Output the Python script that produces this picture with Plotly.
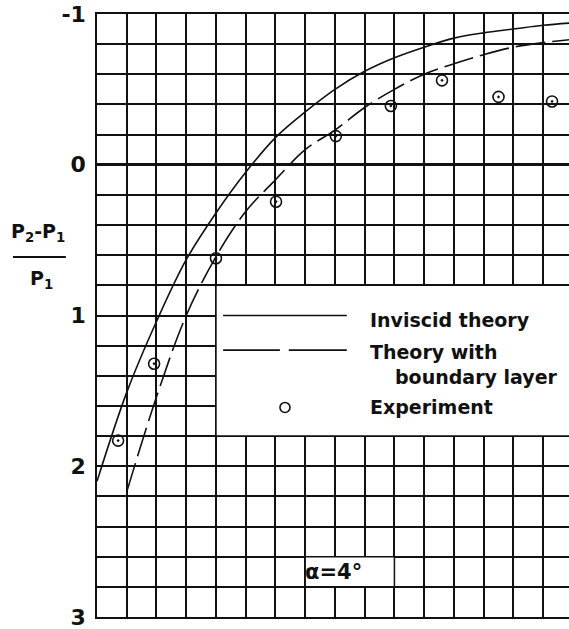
import plotly.graph_objects as go

# ---------------------------------------------------------------------------
# Data (x in grid-cell units, y = (P2-P1)/P1)
# ---------------------------------------------------------------------------
inviscid_x = [0, 1, 2, 3, 4, 5, 6, 7, 8, 9, 10, 11, 12, 13, 14, 15, 15.9]
inviscid_y = [2.1, 1.51, 1.04, 0.63, 0.32, 0.05, -0.18, -0.35, -0.5, -0.62,
              -0.71, -0.78, -0.84, -0.875, -0.9, -0.925, -0.94]

bl_x = [1, 2, 3, 4, 5, 6, 7, 8, 9, 10, 11, 12, 13, 14, 15, 15.9]
bl_y = [2.17, 1.54, 1.0, 0.61, 0.31, 0.1, -0.1, -0.23, -0.38, -0.5,
        -0.6, -0.67, -0.73, -0.78, -0.81, -0.83]

exp_x = [0.71, 1.92, 4.0, 6.02, 8.03, 9.88, 11.6, 13.5, 15.3]
exp_y = [1.83, 1.32, 0.62, 0.245, -0.19, -0.39, -0.56, -0.45, -0.42]

y_ticks = [-1, 0, 1, 2, 3]
y_ticktext = ["-1", "0", "1", "2", "3"]

FONT = "DejaVu Sans"
INK = "#111111"


def bold(size):
    return dict(family=FONT, size=size, color=INK, weight="bold")


fig = go.Figure()

fig.add_trace(go.Scatter(
    x=inviscid_x, y=inviscid_y, mode="lines",
    line=dict(color=INK, width=1.6, shape="spline", smoothing=1.0),
    showlegend=False,
))
fig.add_trace(go.Scatter(
    x=bl_x, y=bl_y, mode="lines",
    line=dict(color=INK, width=1.6, shape="spline", smoothing=1.0,
              dash="30px,7px"),
    showlegend=False,
))
fig.add_trace(go.Scatter(
    x=exp_x, y=exp_y, mode="markers",
    marker=dict(symbol="circle-open-dot", size=11, color=INK,
                line=dict(width=1.6, color=INK)),
    showlegend=False,
))

shapes = [
    # white legend panel and alpha panel, drawn over the grid
    dict(type="rect", xref="x", yref="y", x0=4, x1=20, y0=0.8, y1=1.8,
         fillcolor="white", line=dict(color=INK, width=1.5), layer="between"),
    dict(type="rect", xref="x", yref="y", x0=7, x1=10, y0=2.6, y1=2.8,
         fillcolor="white", line=dict(color=INK, width=1.5), layer="between"),
    # legend samples
    dict(type="line", xref="x", yref="y", x0=4.24, x1=8.4, y0=1.0, y1=1.0,
         line=dict(color=INK, width=1.6)),
    dict(type="line", xref="x", yref="y", x0=4.24, x1=6.15, y0=1.23, y1=1.23,
         line=dict(color=INK, width=1.6)),
    dict(type="line", xref="x", yref="y", x0=6.45, x1=8.4, y0=1.23, y1=1.23,
         line=dict(color=INK, width=1.6)),
    dict(type="circle", xref="x", yref="y", xsizemode="pixel",
         ysizemode="pixel", xanchor=6.32, yanchor=1.61,
         x0=-5, x1=5, y0=-5, y1=5, line=dict(color=INK, width=1.6)),
    # fraction bar of the axis title
    dict(type="line", xref="paper", yref="paper", x0=-0.178, x1=-0.066,
         y0=0.597, y1=0.597, line=dict(color=INK, width=2)),
]

annotations = []
for x, y, text in [(9.1, 1.03, "Inviscid theory"),
                   (9.1, 1.24, "Theory with"),
                   (9.95, 1.41, "boundary layer"),
                   (9.1, 1.61, "Experiment")]:
    annotations.append(dict(x=x, y=y, text=text, xref="x", yref="y",
                            xanchor="left", yanchor="middle",
                            showarrow=False, font=bold(19)))
annotations.append(dict(x=7.95, y=2.7, text="α=4°", xref="x", yref="y",
                        xanchor="center", yanchor="middle",
                        showarrow=False, font=bold(21)))
annotations += [
    dict(xref="paper", yref="paper", x=-0.124, y=0.637,
         text="P<sub>2</sub>-P<sub>1</sub>", showarrow=False,
         xanchor="center", yanchor="middle", font=bold(19)),
    dict(xref="paper", yref="paper", x=-0.118, y=0.56,
         text="P<sub>1</sub>", showarrow=False,
         xanchor="center", yanchor="middle", font=bold(19)),
]

fig.update_layout(
    width=569, height=629,
    margin=dict(l=97, r=0, t=14, b=12, autoexpand=False),
    plot_bgcolor="white", paper_bgcolor="white",
    shapes=shapes, annotations=annotations,
    xaxis=dict(
        range=[0, 15.87], tick0=0, dtick=1, showticklabels=False,
        ticks="", showgrid=True, gridcolor=INK, gridwidth=1.5,
        zeroline=False, showline=True, linecolor=INK, linewidth=1.5,
        mirror=True, automargin=False,
    ),
    yaxis=dict(
        range=[3, -1], tickmode="array", tickvals=y_ticks,
        ticktext=y_ticktext,
        ticks="", showgrid=True, gridcolor=INK, gridwidth=1.5,
        minor=dict(tickmode="linear", tick0=-1, dtick=0.2, showgrid=True,
                   gridcolor=INK, gridwidth=1.5, ticks=""),
        zeroline=True, zerolinecolor=INK, zerolinewidth=2.5,
        showline=True, linecolor=INK, linewidth=1.5,
        tickfont=bold(22),
        ticklabelstandoff=5,
        ticklabeloverflow="allow",
        automargin=False,
    ),
)

# drop the page's default 8px body margin so the figure fills the window
fig.write_html("out.html", config={"displayModeBar": False},
               post_script="document.body.style.margin = '0';")
